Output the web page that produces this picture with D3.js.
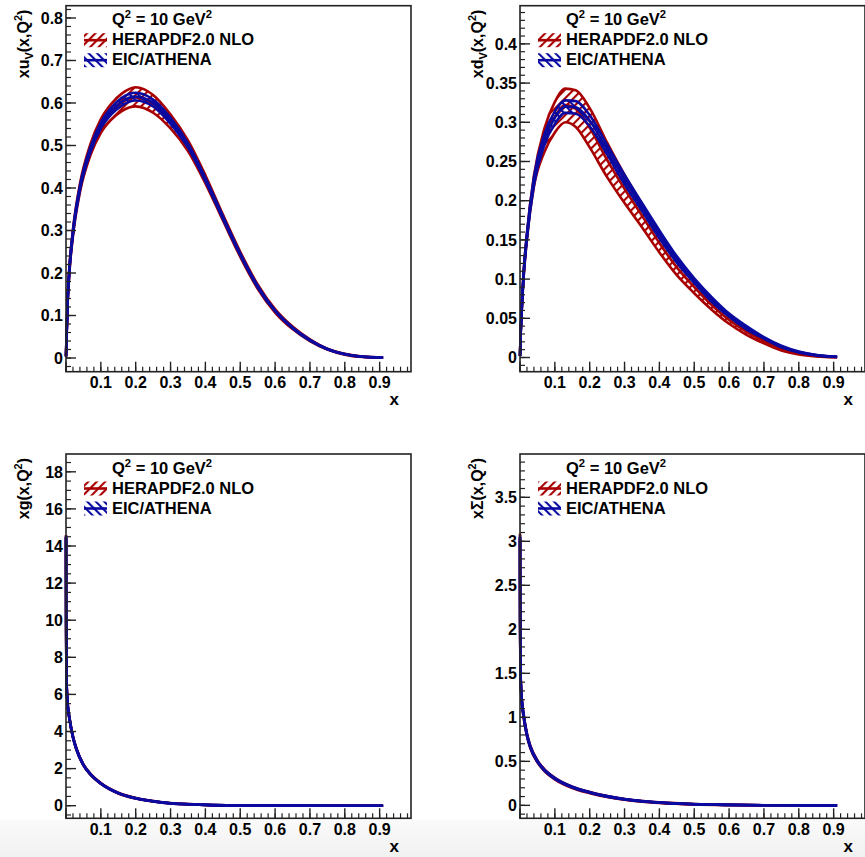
<!DOCTYPE html>
<html><head><meta charset="utf-8">
<script src="https://cdn.jsdelivr.net/npm/d3@7"></script>
<style>body{margin:0;background:#fff}svg{display:block}text{font-family:"Liberation Sans",Arial,Helvetica,sans-serif;font-weight:bold;fill:#000}</style>
</head><body>
<script>
// ---------------- data ----------------
const xV = [0.0001,0.001,0.005,0.01,0.02,0.04,0.07,0.1,0.13,0.16,0.2,0.25,0.3,0.35,0.4,0.45,0.5,0.55,0.6,0.65,0.7,0.75,0.8,0.85,0.91];
// x u_V
const uvHeraC = [0.004,0.035,0.14,0.21,0.295,0.40,0.49,0.546,0.579,0.601,0.613,0.597,0.556,0.499,0.420,0.331,0.244,0.168,0.111,0.071,0.042,0.021,0.009,0.003,0.0008];
const uvHeraU = [0.005,0.038,0.146,0.217,0.303,0.41,0.503,0.562,0.598,0.622,0.637,0.619,0.573,0.512,0.430,0.338,0.250,0.173,0.115,0.074,0.044,0.022,0.010,0.0035,0.001];
const uvHeraL = [0.003,0.032,0.134,0.203,0.287,0.39,0.477,0.530,0.561,0.581,0.592,0.577,0.540,0.487,0.411,0.324,0.238,0.163,0.107,0.068,0.040,0.020,0.008,0.0025,0.0006];
const uvEicC  = [0.004,0.035,0.14,0.21,0.295,0.40,0.49,0.547,0.581,0.603,0.615,0.600,0.558,0.500,0.420,0.331,0.244,0.168,0.111,0.071,0.042,0.021,0.009,0.003,0.0008];
const uvEicU  = [0.0045,0.036,0.143,0.214,0.299,0.405,0.496,0.554,0.589,0.612,0.624,0.608,0.565,0.505,0.424,0.334,0.246,0.170,0.112,0.072,0.043,0.0215,0.0093,0.0032,0.0009];
const uvEicL  = [0.0035,0.034,0.137,0.206,0.291,0.395,0.484,0.540,0.573,0.594,0.606,0.592,0.551,0.495,0.416,0.328,0.242,0.166,0.110,0.070,0.041,0.0205,0.0087,0.0028,0.0007];
// x d_V
const dvHeraC = [0.002,0.018,0.062,0.103,0.155,0.225,0.278,0.307,0.322,0.317,0.293,0.252,0.215,0.181,0.146,0.115,0.090,0.067,0.048,0.033,0.021,0.011,0.005,0.002,0.0005];
const dvHeraU = [0.0022,0.019,0.064,0.106,0.159,0.232,0.292,0.326,0.343,0.341,0.318,0.274,0.233,0.196,0.158,0.125,0.098,0.073,0.053,0.036,0.023,0.0125,0.0058,0.0025,0.0007];
const dvHeraL = [0.0018,0.017,0.060,0.100,0.151,0.218,0.262,0.287,0.300,0.294,0.268,0.230,0.197,0.166,0.134,0.105,0.082,0.061,0.043,0.029,0.018,0.009,0.004,0.0015,0.0003];
const dvEicC  = [0.002,0.018,0.062,0.103,0.155,0.225,0.278,0.306,0.320,0.319,0.302,0.265,0.227,0.192,0.157,0.125,0.098,0.074,0.054,0.038,0.025,0.014,0.007,0.003,0.0008];
const dvEicU  = [0.0021,0.0185,0.063,0.105,0.158,0.23,0.285,0.314,0.328,0.327,0.309,0.271,0.233,0.197,0.162,0.129,0.101,0.077,0.056,0.040,0.026,0.015,0.0076,0.0033,0.0009];
const dvEicL  = [0.0019,0.0175,0.061,0.101,0.152,0.22,0.271,0.298,0.312,0.311,0.295,0.259,0.221,0.187,0.152,0.121,0.095,0.071,0.052,0.036,0.024,0.013,0.0064,0.0027,0.0007];

const xG = [0.0001,0.0002,0.0005,0.001,0.002,0.005,0.01,0.02,0.03,0.05,0.07,0.1,0.15,0.2,0.25,0.3,0.35,0.4,0.5,0.6,0.7,0.8,0.91];
// x g
const gHeraC = [14.5,12.5,9.6,7.8,6.4,5.4,4.7,3.7,3.05,2.2,1.7,1.2,0.68,0.40,0.24,0.13,0.08,0.045,0.015,0.005,0.0015,0.0003,0.0];
const gHeraU = [14.6,12.6,9.7,7.88,6.47,5.46,4.75,3.74,3.09,2.23,1.73,1.22,0.70,0.415,0.25,0.137,0.085,0.048,0.017,0.006,0.002,0.0005,0.0001];
const gHeraL = [14.4,12.4,9.5,7.72,6.33,5.34,4.65,3.66,3.01,2.17,1.67,1.18,0.66,0.385,0.23,0.123,0.075,0.042,0.013,0.004,0.001,0.0001,0];
const gEicC  = [14.5,12.5,9.6,7.8,6.4,5.4,4.7,3.7,3.05,2.2,1.7,1.2,0.68,0.40,0.24,0.13,0.08,0.045,0.015,0.005,0.0015,0.0003,0.0];
const gEicU  = [14.55,12.55,9.65,7.84,6.44,5.43,4.72,3.72,3.07,2.21,1.71,1.21,0.69,0.41,0.245,0.134,0.083,0.047,0.016,0.0055,0.0018,0.0004,0.0001];
const gEicL  = [14.45,12.45,9.55,7.76,6.36,5.37,4.68,3.68,3.03,2.19,1.69,1.19,0.67,0.39,0.235,0.126,0.077,0.043,0.014,0.0045,0.0012,0.0002,0];
// x Sigma
const sHeraC = [3.05,2.6,2.05,1.7,1.43,1.2,1.03,0.80,0.66,0.50,0.40,0.305,0.205,0.145,0.10,0.068,0.046,0.031,0.013,0.005,0.0015,0.0004,0];
const sHeraU = [3.09,2.64,2.08,1.73,1.45,1.22,1.05,0.815,0.675,0.512,0.41,0.314,0.213,0.152,0.106,0.073,0.05,0.034,0.015,0.006,0.002,0.0006,0.0001];
const sHeraL = [3.01,2.56,2.02,1.67,1.41,1.18,1.01,0.785,0.645,0.488,0.39,0.296,0.197,0.138,0.094,0.063,0.042,0.028,0.011,0.004,0.001,0.0002,0];
const sEicC  = [3.05,2.6,2.05,1.7,1.43,1.2,1.03,0.80,0.66,0.50,0.40,0.306,0.207,0.147,0.102,0.07,0.047,0.032,0.013,0.005,0.0015,0.0004,0];
const sEicU  = [3.07,2.62,2.065,1.715,1.44,1.21,1.04,0.808,0.667,0.506,0.405,0.311,0.211,0.15,0.105,0.072,0.049,0.033,0.014,0.0055,0.0018,0.0005,0.0001];
const sEicL  = [3.03,2.58,2.035,1.685,1.42,1.19,1.02,0.792,0.653,0.494,0.395,0.301,0.203,0.144,0.099,0.068,0.045,0.031,0.012,0.0045,0.0012,0.0003,0];

const xTicks = [0,0.1,0.2,0.3,0.4,0.5,0.6,0.7,0.8,0.9];
const xTickLabels = ["","0.1","0.2","0.3","0.4","0.5","0.6","0.7","0.8","0.9"];
const uvTicks = [0,0.1,0.2,0.3,0.4,0.5,0.6,0.7,0.8];
const dvTicks = [0,0.05,0.1,0.15,0.2,0.25,0.3,0.35,0.4];
const gTicks = [0,2,4,6,8,10,12,14,16,18];
const sTicks = [0,0.5,1,1.5,2,2.5,3,3.5];
const seriesNames = ["HERAPDF2.0 NLO","EIC/ATHENA"];

// ---------------- layout / style ----------------
const W = 865, H = 857;
const RED = "#a80000", BLUE = "#0a0aa0";
const panels = [
  {left:66, top:5.7, width:345, height:366, y:[-0.0322,0.8289], ticks:uvTicks, minor:0.02,
   title:[{t:"xu"},{t:"V",sub:1},{t:"(x,Q"},{t:"2",sup:1},{t:")"}], titleX:29,
   x:xV, hera:[uvHeraL,uvHeraC,uvHeraU], eic:[uvEicL,uvEicC,uvEicU]},
  {left:520, top:5.7, width:345, height:366, y:[-0.0181,0.4487], ticks:dvTicks, minor:0.01,
   title:[{t:"xd"},{t:"V",sub:1},{t:"(x,Q"},{t:"2",sup:1},{t:")"}], titleX:483,
   x:xV, hera:[dvHeraL,dvHeraC,dvHeraU], eic:[dvEicL,dvEicC,dvEicU]},
  {left:66, top:454, width:345, height:364.3, y:[-0.679,18.96], ticks:gTicks, minor:0.5,
   title:[{t:"xg(x,Q"},{t:"2",sup:1},{t:")"}], titleX:29,
   x:xG, hera:[gHeraL,gHeraC,gHeraU], eic:[gEicL,gEicC,gEicU]},
  {left:520, top:454, width:345, height:364.3, y:[-0.147,3.992], ticks:sTicks, minor:0.1,
   title:[{t:"xΣ(x,Q"},{t:"2",sup:1},{t:")"}], titleX:483,
   x:xG, hera:[sHeraL,sHeraC,sHeraU], eic:[sEicL,sEicC,sEicU]}
];

const svg = d3.select("body").append("svg").attr("width", W).attr("height", H);
const defs = svg.append("defs");
const grad = defs.append("linearGradient").attr("id","bot").attr("x1",0).attr("y1",0).attr("x2",0).attr("y2",1);
grad.append("stop").attr("offset","0%").attr("stop-color","#fafafa");
grad.append("stop").attr("offset","100%").attr("stop-color","#f1f1f1");
function hatch(id, color, angle){
  const p = defs.append("pattern").attr("id",id).attr("patternUnits","userSpaceOnUse")
    .attr("width",6).attr("height",6).attr("patternTransform",`rotate(${angle})`);
  p.append("line").attr("x1",1).attr("y1",0).attr("x2",1).attr("y2",6)
    .attr("stroke",color).attr("stroke-width",2.2);
}
hatch("hRed", RED, 45);
hatch("hBlue", BLUE, -45);

svg.append("rect").attr("width",W).attr("height",H).attr("fill","#fff");
svg.append("rect").attr("x",0).attr("y",820).attr("width",W).attr("height",H-820).attr("fill","url(#bot)");

function richText(sel, parts, size){
  let cur = 0;
  parts.forEach(p=>{
    const target = p.sup ? -size*0.42 : p.sub ? size*0.28 : 0;
    const ts = sel.append("tspan").text(p.t).attr("dy", target-cur);
    if (p.sup || p.sub) ts.attr("font-size", size*0.68);
    cur = target;
  });
}

panels.forEach(P=>{
  const g = svg.append("g");
  const x = d3.scaleLinear().domain([0,0.99]).range([P.left, P.left+P.width]);
  const y = d3.scaleLinear().domain(P.y).range([P.top+P.height, P.top]);
  const bottom = P.top + P.height;

  const drawSet = (arrs, color, pat) => {
    const [lo, c, up] = arrs;
    const pts = P.x.map((xx,i)=>({x:xx, lo:lo[i], c:c[i], up:up[i]}));
    const area = d3.area().x(d=>x(d.x)).y0(d=>y(d.lo)).y1(d=>y(d.up)).curve(d3.curveMonotoneX);
    g.append("path").datum(pts).attr("d",area).attr("fill",`url(#${pat})`);
    ["lo","c","up"].forEach(k=>{
      const line = d3.line().x(d=>x(d.x)).y(d=>y(d[k])).curve(d3.curveMonotoneX);
      g.append("path").datum(pts).attr("d",line).attr("fill","none")
        .attr("stroke",color).attr("stroke-width",2.6).attr("stroke-linejoin","round");
    });
  };
  drawSet(P.hera, RED, "hRed");
  drawSet(P.eic, BLUE, "hBlue");

  g.append("rect").attr("x",P.left).attr("y",P.top).attr("width",P.width).attr("height",P.height)
    .attr("fill","none").attr("stroke","#222").attr("stroke-width",1.6);

  const xMinor = d3.range(0,50).map(k=>k*0.02).filter(v=>v<=0.99);
  xMinor.forEach(v=>{
    g.append("line").attr("x1",x(v)).attr("x2",x(v)).attr("y1",bottom).attr("y2",bottom-5)
      .attr("stroke","#222").attr("stroke-width",1.2);
  });
  xTicks.forEach((v,i)=>{
    g.append("line").attr("x1",x(v)).attr("x2",x(v)).attr("y1",bottom).attr("y2",bottom-10)
      .attr("stroke","#222").attr("stroke-width",1.4);
    if (xTickLabels[i]) g.append("text").attr("x",x(v)).attr("y",bottom+16.5)
      .attr("text-anchor","middle").attr("font-size",16).text(xTickLabels[i]);
  });
  g.append("text").attr("x",P.left+P.width-12).attr("y",bottom+33.5).attr("text-anchor","end")
    .attr("font-size",17).text("x");

  const kmin = Math.ceil(P.y[0]/P.minor - 1e-6), kmax = Math.floor(P.y[1]/P.minor + 1e-6);
  d3.range(kmin, kmax+1).forEach(k=>{
    const v = k*P.minor;
    g.append("line").attr("x1",P.left).attr("x2",P.left+5).attr("y1",y(v)).attr("y2",y(v))
      .attr("stroke","#222").attr("stroke-width",1.2);
  });
  const fmt = d3.format("~g");
  P.ticks.forEach(v=>{
    g.append("line").attr("x1",P.left).attr("x2",P.left+10).attr("y1",y(v)).attr("y2",y(v))
      .attr("stroke","#222").attr("stroke-width",1.4);
    g.append("text").attr("x",P.left-3).attr("y",y(v)).attr("dy","0.36em")
      .attr("text-anchor","end").attr("font-size",16).text(fmt(v));
  });

  const tt = g.append("text").attr("transform",`translate(${P.titleX},${P.top+4}) rotate(-90)`)
    .attr("text-anchor","end").attr("font-size",16);
  richText(tt, P.title, 16);

  const lx = P.left+46;
  const q = g.append("text").attr("x",lx).attr("y",P.top+19.5).attr("font-size",16.5);
  richText(q, [{t:"Q"},{t:"2",sup:1},{t:" = 10 GeV"},{t:"2",sup:1}], 16.5);
  [[RED,"hRed"],[BLUE,"hBlue"]].forEach(([col,pat],i)=>{
    const cy = P.top + 34.5 + i*20;
    g.append("rect").attr("x",P.left+18).attr("y",cy-7).attr("width",23).attr("height",14)
      .attr("fill",`url(#${pat})`);
    g.append("line").attr("x1",P.left+18).attr("x2",P.left+41).attr("y1",cy).attr("y2",cy)
      .attr("stroke",col).attr("stroke-width",2.6);
    g.append("text").attr("x",lx).attr("y",P.top+39.5+i*20).attr("font-size",16.5).text(seriesNames[i]);
  });
});
</script>
</body></html>
